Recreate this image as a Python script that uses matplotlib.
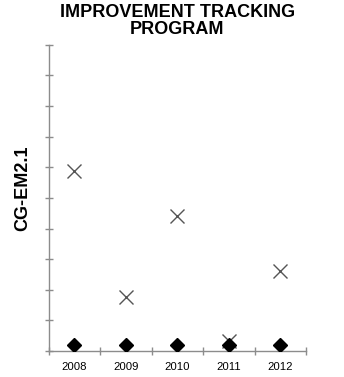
import numpy as np
import matplotlib
matplotlib.use("Agg")
import matplotlib.pyplot as plt

plt.rcParams["font.family"] = ["Liberation Sans", "DejaVu Sans"]

years = ["2008", "2009", "2010", "2011", "2012"]
cross_vals = [5.89, 1.77, 4.40, 0.34, 2.62]
diamond_vals = [0.2, 0.2, 0.2, 0.2, 0.2]

AXIS_GREY = "#8c8c8c"

fig = plt.figure(figsize=(3.44, 3.77), dpi=100)
ax = fig.add_axes([0.141, 0.069, 0.749, 0.812])

x = np.arange(len(years))
ax.plot(x, cross_vals, linestyle="none", marker="x", markersize=10,
        markeredgewidth=1.0, color="#555555", zorder=3)
ax.plot(x, diamond_vals, linestyle="none", marker="D", markersize=7,
        color="black", zorder=4)

ax.set_xlim(-0.5, len(years) - 0.5)
ax.set_ylim(0, 10)

# category boundaries as major ticks, labels on the minor ones
ax.set_xticks(np.arange(-0.5, len(years), 1.0))
ax.set_xticklabels([])
ax.set_xticks(x, minor=True)
ax.set_xticklabels(years, minor=True, fontsize=8.2)
ax.tick_params(axis="x", which="minor", length=0, pad=8)
ax.tick_params(axis="x", which="major", direction="inout", length=6,
               color=AXIS_GREY, width=1)

ax.set_yticks(np.arange(0, 11, 1))
ax.set_yticklabels([])
ax.tick_params(axis="y", direction="inout", length=6, color=AXIS_GREY, width=1)

for s in ["top", "right"]:
    ax.spines[s].set_visible(False)
for s in ["left", "bottom"]:
    ax.spines[s].set_color(AXIS_GREY)
    ax.spines[s].set_linewidth(1)

ax.set_ylabel("CG-EM2.1", fontsize=13, fontweight="bold")
ax.yaxis.set_label_coords(-0.068, 0.53)
ax.set_title("IMPROVEMENT TRACKING\nPROGRAM", fontsize=13, fontweight="bold",
             linespacing=0.95, pad=8)

fig.savefig("out.png", dpi=100)
